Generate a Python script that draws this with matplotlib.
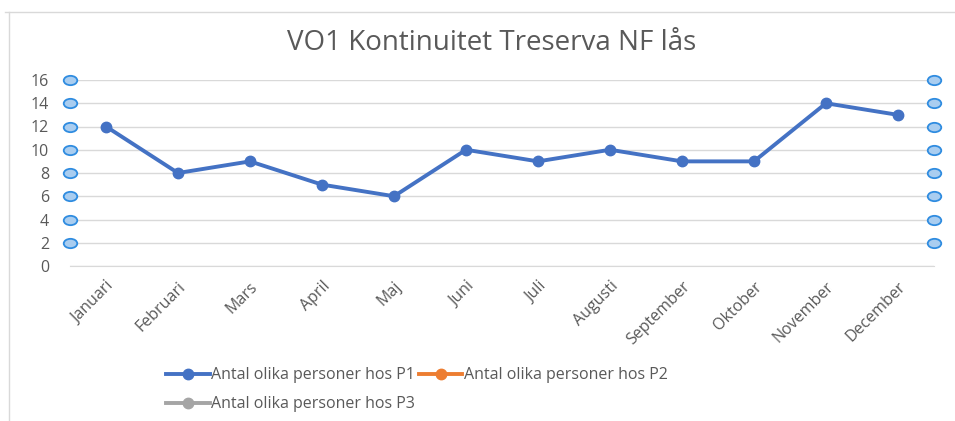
import numpy as np
import matplotlib.pyplot as plt
from matplotlib.path import Path
from matplotlib.transforms import Affine2D
from matplotlib.lines import Line2D

plt.rcParams['font.family'] = ['Open Sans', 'DejaVu Sans']

months = ["Januari", "Februari", "Mars", "April", "Maj", "Juni", "Juli",
          "Augusti", "September", "Oktober", "November", "December"]
p1 = [12, 8, 9, 7, 6, 10, 9, 10, 9, 9, 14, 13]
series_names = ["Antal olika personer hos P1", "Antal olika personer hos P2",
                "Antal olika personer hos P3"]
y_ticks = [0, 2, 4, 6, 8, 10, 12, 14, 16]
handle_ticks = [2, 4, 6, 8, 10, 12, 14, 16]

text_col = "#595959"
grid_col = "#D9D9D9"

fig = plt.figure(figsize=(9.55, 4.21), dpi=100)
ax = fig.add_axes([70 / 955, 1 - 266 / 421, 864 / 955, 186 / 421])

x = np.arange(len(months))
ax.plot(x, p1, color="#4472C4", lw=2.8, marker="o", ms=7.5, solid_capstyle="round")

# selection handles on the plot edges
ell = Path.unit_circle().transformed(Affine2D().scale(1.45, 1.0))
for xe in (-0.5, len(months) - 0.5):
    ax.scatter([xe] * len(handle_ticks), handle_ticks, marker=ell, s=95,
               facecolor="#A9CDF0", edgecolor="#2F8CE0", linewidth=1.3,
               zorder=5, clip_on=False)

ax.set_xlim(-0.5, len(months) - 0.5)
ax.set_ylim(0, 16)
ax.set_yticks(y_ticks)
ax.set_xticks(x)
ax.set_xticklabels(months, rotation=45, ha="right", rotation_mode="anchor")
ax.tick_params(axis="both", length=0, colors=text_col, labelsize=11.5)
ax.tick_params(axis="y", pad=15)
ax.tick_params(axis="x", pad=9)
ax.grid(axis="y", color=grid_col, lw=1)
ax.set_axisbelow(True)
for s in ["top", "right", "left"]:
    ax.spines[s].set_visible(False)
ax.spines["bottom"].set_color(grid_col)

fig.text(492 / 955, 1 - 43 / 421, "VO1 Kontinuitet Treserva NF lås",
         ha="center", va="center", fontsize=20, color=text_col)

# legend
cols = ["#4472C4", "#ED7D31", "#A5A5A5"]
handles = [Line2D([], [], color=c, lw=2.8, marker="o", ms=7.5) for c in cols]
order = [0, 2, 1]
fig.legend([handles[i] for i in order], [series_names[i] for i in order],
           ncol=2, loc="upper left", bbox_to_anchor=(160 / 955, 1 - 361 / 421),
           frameon=False, fontsize=11.5, labelcolor=text_col,
           handlelength=2.7, handletextpad=0.1, columnspacing=0.25,
           labelspacing=0.8, borderaxespad=0)

# chart frame
fig.add_artist(Line2D([9 / 955, 9 / 955], [0, 1 - 12 / 421], color="#D9D9D9", lw=1))
fig.add_artist(Line2D([5 / 955, 1], [1 - 12 / 421, 1 - 12 / 421], color="#D9D9D9", lw=1))

fig.savefig("out.png", dpi=100)
